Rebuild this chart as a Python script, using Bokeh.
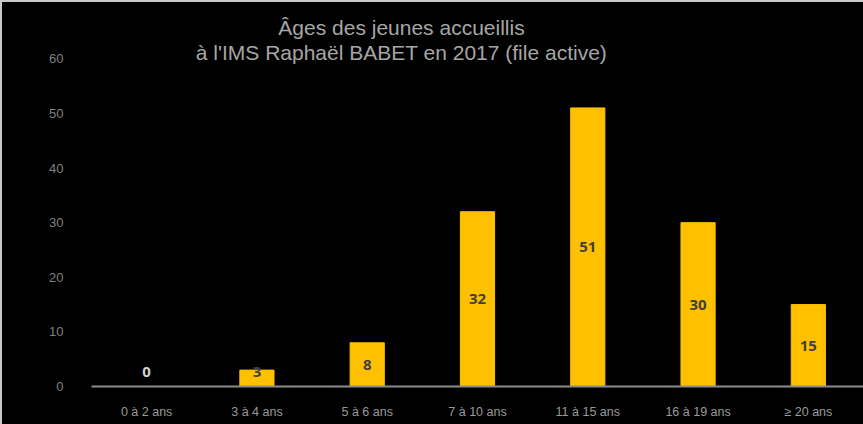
from bokeh.plotting import figure
from bokeh.models import ColumnDataSource, Label, FixedTicker, Range1d
from bokeh.layouts import column
from bokeh.core.properties import value
from bokeh.embed import file_html
from bokeh.resources import INLINE

categories = ["0 à 2 ans", "3 à 4 ans", "5 à 6 ans", "7 à 10 ans", "11 à 15 ans", "16 à 19 ans", "≥ 20 ans"]
values = [0, 3, 8, 32, 51, 30, 15]
y_ticks = [0, 10, 20, 30, 40, 50, 60]
title_lines = ["Âges des jeunes accueillis", "à l'IMS Raphaël BABET en 2017 (file active)"]

label_y = [max(v / 2, 2.7) for v in values]
label_color = ["#d0d0d0" if v == 0 else "#404040" for v in values]
src = ColumnDataSource(dict(cat=categories, val=values, ly=label_y,
                            txt=[str(v) for v in values], lc=label_color))

p = figure(x_range=categories, y_range=Range1d(0, 68.84), width=861, height=422,
           output_backend="svg", toolbar_location=None,
           background_fill_color="black", border_fill_color="black",
           min_border_left=89, min_border_right=0, min_border_top=8, min_border_bottom=38,
           styles={"background-color": "black"})
p.outline_line_color = None
p.xgrid.visible = False
p.ygrid.visible = False

p.vbar(x="cat", top="val", width=0.31, source=src, fill_color="#ffc000", line_color="#ffc000")
p.text(x="cat", y="ly", text="txt", source=src, text_color="lc", text_align="center",
       text_baseline="middle", text_font_size="15px", text_font_style="bold",
       text_font=value("Open Sans"))

p.yaxis.ticker = FixedTicker(ticks=y_ticks)
p.yaxis.axis_line_color = None
p.yaxis.major_tick_line_color = None
p.yaxis.minor_tick_line_color = None
p.yaxis.major_label_text_color = "#808080"
p.yaxis.major_label_text_font_size = "13px"
p.yaxis.major_label_text_font = "Liberation Sans"
p.yaxis.major_label_standoff = 22

p.xaxis.axis_line_color = "#8c8c8c"
p.xaxis.axis_line_width = 2
p.xaxis.major_tick_line_color = None
p.xaxis.minor_tick_line_color = None
p.xaxis.major_label_text_color = "#9a9a9a"
p.xaxis.major_label_text_font_size = "12.5px"
p.xaxis.major_label_text_font = "Liberation Sans"
p.xaxis.major_label_standoff = 12

for t, yy in zip(title_lines, [65.7, 61.1]):
    p.add_layout(Label(x=310, y=yy, x_units="screen", y_units="data", text=t,
                       text_color="#a6a6a6", text_font_size="21px",
                       text_font="Liberation Sans", text_align="center", text_baseline="middle"))

layout = column(p, styles={"background-color": "black",
                           "border-left": "2px solid #c8c8c8", "border-top": "2px solid #c8c8c8"})
open("out.html", "w").write(file_html(layout, INLINE))
